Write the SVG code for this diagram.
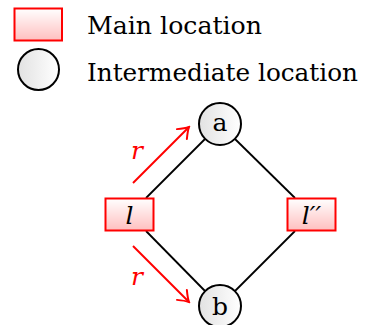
<svg xmlns="http://www.w3.org/2000/svg" width="366" height="325" viewBox="0 0 366 325">
<defs>
<linearGradient id="gMain" x1="0" y1="0" x2="0" y2="1">
<stop offset="0" stop-color="#ffffff"/>
<stop offset="1" stop-color="#ffbfbf"/>
</linearGradient>
<linearGradient id="gInter" x1="0" y1="0" x2="1" y2="0">
<stop offset="0" stop-color="#e2e2e2"/>
<stop offset="1" stop-color="#ffffff"/>
</linearGradient>
<marker id="arr" viewBox="-12 -8 14 16" refX="0" refY="0" markerWidth="14" markerHeight="16" markerUnits="userSpaceOnUse" orient="auto">
<path d="M -10 -7 Q -4 -2 0 0 Q -4 2 -10 7" fill="none" stroke="#ff0000" stroke-width="2" stroke-linecap="round"/>
</marker>
</defs>
<style>
.main{fill:url(#gMain);stroke:#ff0000;stroke-width:2}
.inter{fill:url(#gInter);stroke:#000;stroke-width:2}
.txt{font-family:"DejaVu Serif","Liberation Serif",serif;font-size:25px;fill:#000}
.leg{font-size:24.5px}
.it{font-style:italic}
.edge{stroke:#000;stroke-width:1.8;fill:none}
.red{stroke:#ff0000;stroke-width:2;fill:none}
.rl{font-family:"DejaVu Serif","Liberation Serif",serif;font-size:25px;font-style:italic;fill:#ff0000}
</style>
<g id="legend-main">
<rect class="main" x="14.5" y="8.5" width="47.5" height="32"/>
<text class="txt leg" x="87" y="34" textLength="175" lengthAdjust="spacingAndGlyphs">Main location</text>
</g>
<g id="legend-inter">
<circle class="inter" cx="38.5" cy="69.5" r="20.5"/>
<text class="txt leg" x="87" y="81" textLength="271" lengthAdjust="spacingAndGlyphs">Intermediate location</text>
</g>
<g id="connectors">
<line class="edge" x1="146" y1="198" x2="205" y2="139"/>
<line class="edge" x1="235" y1="139" x2="295" y2="198"/>
<line class="edge" x1="146" y1="231" x2="205" y2="291"/>
<line class="edge" x1="235" y1="291" x2="295" y2="231"/>
<line class="red" x1="133" y1="183" x2="189" y2="127" marker-end="url(#arr)"/>
<line class="red" x1="133" y1="246" x2="189" y2="302" marker-end="url(#arr)"/>
<text class="rl" x="131" y="159">r</text>
<text class="rl" x="131" y="285">r</text>
</g>
<g id="node-l">
<rect class="main" x="105.5" y="198.5" width="48" height="32"/>
<text class="txt it" x="129.5" y="224" text-anchor="middle">l</text>
</g>
<g id="node-l2">
<rect class="main" x="287.5" y="198.5" width="48" height="32"/>
<text class="txt it" x="311.5" y="224" text-anchor="middle">l′′</text>
</g>
<g id="node-a">
<circle class="inter" cx="220" cy="124" r="21"/>
<text class="txt" x="220" y="131" text-anchor="middle">a</text>
</g>
<g id="node-b">
<circle class="inter" cx="220" cy="306" r="21"/>
<text class="txt" x="220" y="315" text-anchor="middle">b</text>
</g>
</svg>
